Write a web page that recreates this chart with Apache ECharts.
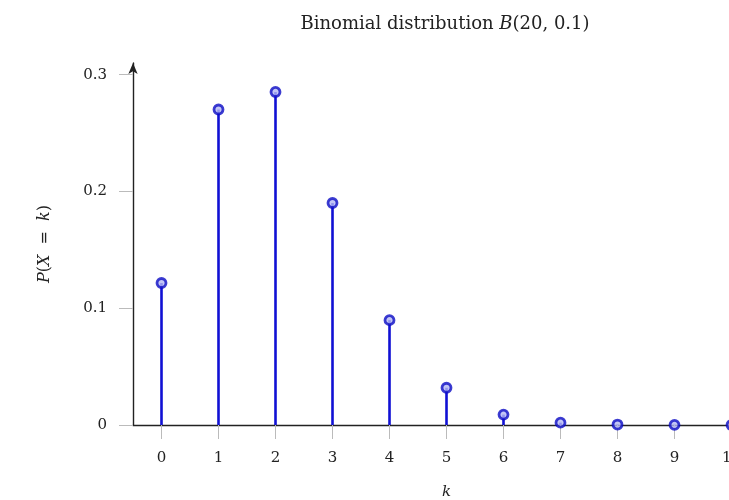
<!DOCTYPE html>
<html>
<head>
<meta charset="utf-8">
<script src="https://cdn.jsdelivr.net/npm/echarts@6/dist/echarts.min.js"></script>
<style>
  html, body { margin: 0; padding: 0; background: #fff; }
  #chart { width: 729px; height: 500px; }
</style>
</head>
<body>
<div id="chart"></div>
<script>
  // B(20, 0.1), k = 0..10
  var kValues = [0, 1, 2, 3, 4, 5, 6, 7, 8, 9, 10];
  var probValues = [0.1216, 0.2702, 0.2852, 0.1901, 0.0898, 0.0319, 0.0089, 0.0020, 0.0004, 0.0001, 0.0000];
  var yTicks = [0, 0.1, 0.2, 0.3];

  var stemColor = '#1010d4';
  var font = 'DejaVu Serif';
  var textColor = '#222';

  var points = kValues.map(function (k, i) {
    return [k, probValues[i]];
  });

  var chart = echarts.init(document.getElementById('chart'));

  chart.setOption({
    animation: false,
    backgroundColor: '#fff',
    title: {
      text: 'Binomial distribution {i|B}(20, 0.1)',
      left: 440,
      top: 10,
      textAlign: 'center',
      textStyle: {
        fontFamily: font,
        fontWeight: 'normal',
        fontSize: 18,
        color: textColor,
        rich: {
          i: { fontFamily: font, fontStyle: 'italic', fontSize: 18, color: textColor }
        }
      }
    },
    grid: {
      left: 133,
      top: 63,
      width: 627,
      height: 362,
      outerBoundsMode: 'none'
    },
    xAxis: {
      type: 'value',
      min: -0.5,
      max: 10.5,
      interval: 1,
      name: 'k',
      nameLocation: 'middle',
      nameGap: 60,
      nameTextStyle: { fontFamily: font, fontStyle: 'italic', fontSize: 15, color: textColor },
      axisLine: { show: true, onZero: false, lineStyle: { color: '#222', width: 1.4 } },
      axisTick: {
        show: true,
        length: 14,
        customValues: kValues,
        lineStyle: { color: '#bbb', width: 1 }
      },
      axisLabel: {
        margin: 26,
        customValues: kValues,
        fontFamily: font,
        fontSize: 15,
        color: textColor
      },
      splitLine: { show: false }
    },
    yAxis: {
      type: 'value',
      min: 0,
      max: 0.31,
      name: '{i|P}({i|X}  =  {i|k})',
      nameLocation: 'middle',
      nameGap: 80,
      nameRotate: 90,
      nameTextStyle: {
        fontFamily: font,
        fontSize: 16,
        color: textColor,
        rich: {
          i: { fontFamily: font, fontStyle: 'italic', fontSize: 16, color: textColor }
        }
      },
      axisLine: {
        show: true,
        onZero: false,
        symbol: ['none', 'arrow'],
        symbolSize: [7, 11],
        lineStyle: { color: '#222', width: 1.4 }
      },
      axisTick: {
        show: true,
        length: 14,
        customValues: yTicks,
        lineStyle: { color: '#bbb', width: 1 }
      },
      axisLabel: {
        margin: 26,
        customValues: yTicks,
        fontFamily: font,
        fontSize: 15,
        color: textColor
      },
      splitLine: { show: false }
    },
    series: [{
      type: 'bar',
      data: points,
      barWidth: 2.6,
      itemStyle: { color: stemColor },
      z: 2
    }, {
      type: 'scatter',
      data: points,
      symbol: 'circle',
      symbolSize: 9,
      itemStyle: {
        color: '#b4b8f4',
        borderColor: '#0c0cc4',
        borderWidth: 2.8
      },
      z: 4
    }]
  });
</script>
</body>
</html>
